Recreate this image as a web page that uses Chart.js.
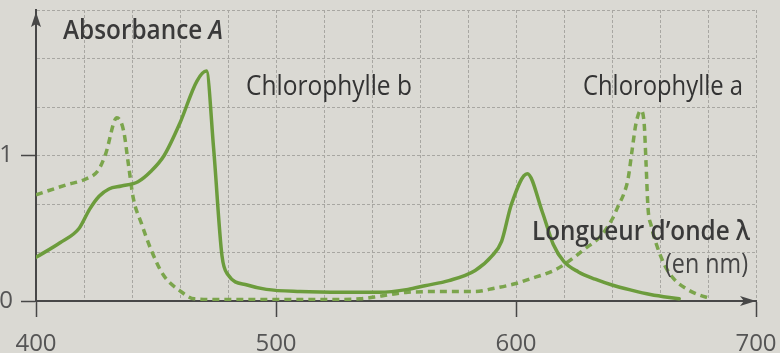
<!DOCTYPE html>
<html><head><meta charset="utf-8">
<script src="https://cdn.jsdelivr.net/npm/chart.js@4.4.1/dist/chart.umd.min.js"></script>
<style>html,body{margin:0;padding:0;background:#dad9d3;}canvas{display:block}</style>
</head><body>
<canvas id="c" width="780" height="353"></canvas>
<script>
// ---- data ----
const chlBWavelengths = [400,410,418,422.3,426.3,430.4,435.6,442.5,447.8,453.4,459.9,467,471,474,477.5,480,488,496,510,528,543,555,562,572,583,590,594,598,604.7,611,615.5,620,626,633,640,648,656,668];
const chlBAbsorbance  = [0.30,0.40,0.50,0.63,0.72,0.77,0.79,0.82,0.89,1.00,1.22,1.51,1.58,1.05,0.31,0.18,0.11,0.08,0.065,0.06,0.06,0.08,0.105,0.14,0.21,0.31,0.41,0.66,0.875,0.61,0.39,0.27,0.20,0.15,0.11,0.075,0.045,0.015];
const chlAWavelengths = [400,413,421,426,429,433.7,436.5,438.5,440.5,444,448,453,460,466,480,500,520,535,544,555,570,583,591,600,605,617,625,628,635.5,640,642.5,645,646.7,648.4,650,652,653.4,654.2,655,656.3,658.5,662,665.6,671.4,675.7,680.6];
const chlAAbsorbance  = [0.73,0.80,0.84,0.90,1.01,1.26,1.17,0.94,0.71,0.53,0.35,0.18,0.07,0.015,0.01,0.01,0.01,0.015,0.035,0.06,0.065,0.065,0.088,0.12,0.147,0.22,0.31,0.35,0.45,0.56,0.65,0.74,0.84,1.04,1.22,1.31,1.22,0.94,0.64,0.52,0.39,0.245,0.155,0.08,0.045,0.02];
const seriesNames = ['Chlorophylle b','Chlorophylle a'];
const xTickLabels = ['400','500','600','700'];
const yTickLabels = ['0','1'];
const xRange = [400,700], xGridStep = 20;
const yRange = [0,2], yGridStep = 1/3;
const yAxisTitle = ['Absorbance ','A'];
const xAxisTitle = ['Longueur d\u2019onde \u03bb','(en nm)'];

// ---- styles ----
const PAPER = '#dad9d3', INK = '#3a3a3a', AXIS = '#474747', GRID = '#a8a7a2';
const GREEN_B = '#6c9c3c', GREEN_A = '#7ba54c';
const FONT = '"Open Sans", "DejaVu Sans", sans-serif';

const toXY = (xs, ys) => xs.map((x, i) => ({x, y: ys[i]}));
const isLabeledX = v => xTickLabels.includes(String(Math.round(v))) && Math.abs(v - Math.round(v)) < 1e-6;
const yLabelFor = v => { for (const l of yTickLabels) if (Math.abs(v - Number(l)) < 1e-6) return l; return ''; };

function fitParts(ctx, parts, x, y, width) {
  ctx.save();
  let total = 0;
  for (const p of parts) { ctx.font = p.font; p.w = ctx.measureText(p.text).width; total += p.w; }
  const s = width / total;
  ctx.translate(x, y); ctx.scale(s, 1);
  ctx.textBaseline = 'alphabetic'; ctx.textAlign = 'left';
  let cx = 0;
  for (const p of parts) { ctx.font = p.font; ctx.fillStyle = p.color; ctx.fillText(p.text, cx, 0); cx += p.w; }
  ctx.restore();
}

const decor = {
  id: 'decor',
  beforeDraw(chart) {
    const c = chart.ctx; c.save(); c.fillStyle = PAPER; c.fillRect(0, 0, chart.width, chart.height); c.restore();
  },
  afterDraw(chart) {
    const c = chart.ctx, a = chart.chartArea;
    c.save();
    c.fillStyle = AXIS; c.strokeStyle = AXIS; c.lineWidth = 2;
    // y arrow
    const yx = a.left, yt = a.top + 2;
    c.beginPath(); c.moveTo(yx, a.top + 14); c.lineTo(yx, yt + 6); c.stroke();
    c.beginPath(); c.moveTo(yx, yt); c.lineTo(yx - 5, yt + 15); c.lineTo(yx, yt + 12); c.lineTo(yx + 5, yt + 15); c.closePath(); c.fill();
    // x arrow
    const xr = a.right, xy = a.bottom;
    c.beginPath(); c.moveTo(xr, xy); c.lineTo(xr - 16, xy - 5); c.lineTo(xr - 12, xy); c.lineTo(xr - 16, xy + 5); c.closePath(); c.fill();
    c.restore();
    // texts
    fitParts(c, [{text: yAxisTitle[0], font: '600 27px ' + FONT, color: INK},
                 {text: yAxisTitle[1], font: 'italic 600 27px ' + FONT, color: INK}], 63, 39, 160);
    fitParts(c, [{text: seriesNames[0], font: '400 28px ' + FONT, color: '#333'}], 246, 95, 166);
    fitParts(c, [{text: seriesNames[1], font: '400 28px ' + FONT, color: '#333'}], 583, 95, 160);
    fitParts(c, [{text: xAxisTitle[0], font: '600 27px ' + FONT, color: INK}], 532, 240, 218);
    fitParts(c, [{text: xAxisTitle[1], font: '400 27px ' + FONT, color: '#444'}], 665, 273, 83);
  }
};

new Chart(document.getElementById('c'), {
  type: 'line',
  data: {
    datasets: [
      {label: seriesNames[0], data: toXY(chlBWavelengths, chlBAbsorbance), borderColor: GREEN_B, borderWidth: 3.5,
       pointRadius: 0, cubicInterpolationMode: 'monotone', fill: false, borderCapStyle: 'round', borderJoinStyle: 'round'},
      {label: seriesNames[1], data: toXY(chlAWavelengths, chlAAbsorbance), borderColor: GREEN_A, borderWidth: 3.5,
       borderDash: [7, 5], pointRadius: 0, cubicInterpolationMode: 'monotone', fill: false}
    ]
  },
  options: {
    responsive: false, animation: false, events: [],
    layout: {padding: {top: 10, right: 24, left: 0, bottom: 0}},
    plugins: {legend: {display: false}, tooltip: {enabled: false}},
    scales: {
      x: {
        type: 'linear', min: xRange[0], max: xRange[1],
        afterBuildTicks: s => { const t = []; for (let v = xRange[0]; v <= xRange[1] + 1e-9; v += xGridStep) t.push({value: v}); s.ticks = t; },
        afterFit: s => { s.height = 52; s.paddingLeft = 0; s.paddingRight = 0; },
        ticks: {autoSkip: false, maxRotation: 0, padding: 13, color: '#555', font: {family: FONT, size: 24},
                callback: v => isLabeledX(v) ? String(Math.round(v)) : ''},
        grid: {color: GRID, lineWidth: 1, borderDash: [3, 2], tickLength: 16, tickWidth: 1.5,
               tickColor: ctx => (ctx.tick && isLabeledX(ctx.tick.value)) ? AXIS : 'rgba(0,0,0,0)'},
        border: {display: true, color: AXIS, width: 2, dash: [3, 2]}
      },
      y: {
        type: 'linear', min: yRange[0], max: yRange[1],
        afterBuildTicks: s => { const t = []; for (let i = 0; i <= 6; i++) t.push({value: yRange[0] + i * yGridStep}); s.ticks = t; },
        afterFit: s => { s.width = 36; s.paddingTop = 0; s.paddingBottom = 0; },
        ticks: {autoSkip: false, padding: 8, color: '#555', font: {family: FONT, size: 24},
                callback: v => yLabelFor(v)},
        grid: {color: GRID, lineWidth: 1, borderDash: [3, 2], tickLength: 15, tickWidth: 1.5,
               tickColor: ctx => (ctx.tick && yLabelFor(ctx.tick.value) !== '') ? AXIS : 'rgba(0,0,0,0)'},
        border: {display: true, color: AXIS, width: 2, dash: [3, 2]}
      }
    }
  },
  plugins: [decor]
});
</script>
</body></html>
